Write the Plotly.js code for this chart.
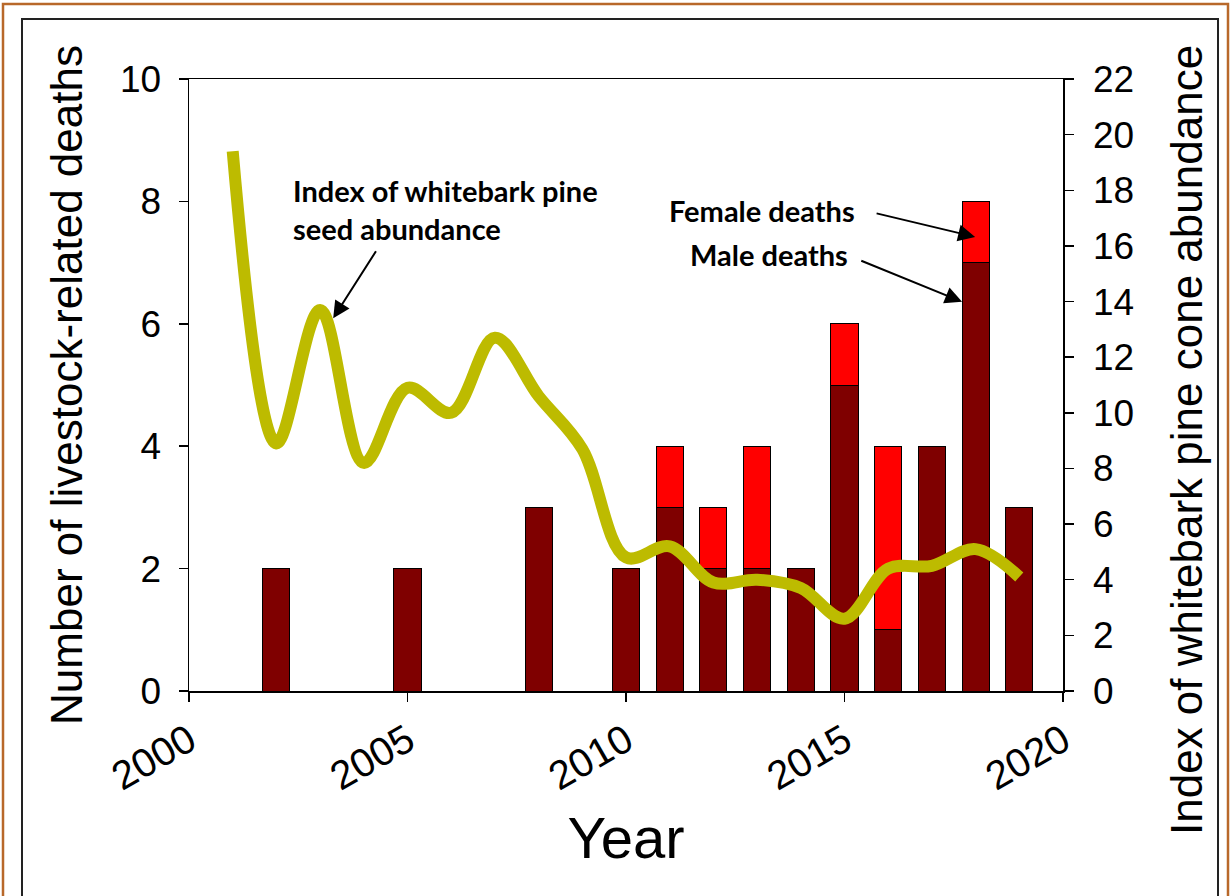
<!DOCTYPE html>
<html>
<head>
<meta charset="utf-8">
<script src="https://cdn.plot.ly/plotly-3.0.1.min.js"></script>
<style>
  html, body { margin: 0; padding: 0; background: #ffffff; }
  #chart { width: 1231px; height: 896px; }
</style>
</head>
<body>
<div id="chart"></div>
<script>
// ---- Data ----
const deathYears   = [2002, 2005, 2008, 2010, 2011, 2012, 2013, 2014, 2015, 2016, 2017, 2018, 2019];
const maleDeaths   = [2, 2, 3, 2, 3, 2, 2, 2, 5, 1, 4, 7, 3];
const femaleDeaths = [0, 0, 0, 0, 1, 1, 2, 0, 1, 3, 0, 1, 0];

const coneYears = [2001, 2002, 2003, 2004, 2005, 2006, 2007, 2008, 2009, 2010,
                   2011, 2012, 2013, 2014, 2015, 2016, 2017, 2018, 2019];
const coneIndex = [19.4, 8.9, 13.7, 8.2, 10.9, 10.0, 12.7, 10.6, 8.7, 4.8,
                   5.2, 3.9, 4.0, 3.7, 2.6, 4.4, 4.5, 5.1, 4.1];

const xTickVals  = [2000, 2005, 2010, 2015, 2020];
const yTickVals  = [0, 2, 4, 6, 8, 10];
const y2TickVals = [0, 2, 4, 6, 8, 10, 12, 14, 16, 18, 20, 22];

const ARIAL = "Liberation Sans, Arial, sans-serif";
const BOLD  = "Lato, Carlito, sans-serif";

const traces = [
  {
    type: 'bar', name: 'Male deaths', x: deathYears, y: maleDeaths,
    width: 0.62,
    marker: { color: '#7f0000', line: { color: '#000000', width: 1 } },
    hoverinfo: 'x+y'
  },
  {
    type: 'bar', name: 'Female deaths', x: deathYears, y: femaleDeaths,
    width: 0.62,
    marker: { color: '#ff0000', line: { color: '#000000', width: 1 } },
    hoverinfo: 'x+y'
  },
  {
    type: 'scatter', mode: 'lines', name: 'Whitebark pine cone index',
    x: coneYears, y: coneIndex, yaxis: 'y2',
    line: { color: '#bdbb00', width: 12, shape: 'spline', smoothing: 1 },
    hoverinfo: 'x+y'
  }
];

// pixel helpers only for frame shapes (paper coords)
const L = 189, R = 1063, T = 79, B = 691;
const px = v => (v - L) / (R - L);
const py = v => (B - v) / (B - T);

const layout = {
  width: 1231, height: 896,
  margin: { l: L, r: 1231 - R, t: T, b: 896 - B },
  paper_bgcolor: '#ffffff', plot_bgcolor: '#ffffff',
  barmode: 'stack',
  showlegend: false,
  font: { family: ARIAL, color: '#000000' },
  xaxis: {
    range: [2000, 2020],
    tickvals: xTickVals,
    ticktext: xTickVals.map(String),
    tickangle: -30,
    tickfont: { family: ARIAL, size: 40, color: '#000' },
    ticks: 'outside', ticklen: 9, tickwidth: 1.5, tickcolor: '#000',
    showline: true, linecolor: '#000', linewidth: 1.5, mirror: true,
    showgrid: false, zeroline: false,
    title: { text: 'Year', font: { family: ARIAL, size: 58, color: '#000' }, standoff: 20 }
  },
  yaxis: {
    range: [0, 10],
    tickvals: yTickVals,
    tickfont: { family: ARIAL, size: 37, color: '#000' },
    ticks: 'outside', ticklen: 9, tickwidth: 1.5, tickcolor: '#000',
    ticklabelstandoff: 10,
    showline: true, linecolor: '#000', linewidth: 1.5,
    showgrid: false, zeroline: false,
    title: { text: 'Number of livestock-related deaths', font: { family: ARIAL, size: 44, color: '#000' }, standoff: 23 }
  },
  yaxis2: {
    range: [0, 22],
    overlaying: 'y', side: 'right',
    tickvals: y2TickVals,
    tickfont: { family: ARIAL, size: 37, color: '#000' },
    ticks: 'outside', ticklen: 9, tickwidth: 1.5, tickcolor: '#000',
    ticklabelstandoff: 12,
    showline: true, linecolor: '#000', linewidth: 1.5,
    showgrid: false, zeroline: false
  },
  shapes: [
    { type: 'rect', xref: 'paper', yref: 'paper', layer: 'below',
      x0: px(3), x1: px(1228), y0: py(905), y1: py(4),
      line: { color: '#b8682a', width: 2.5 }, fillcolor: 'rgba(0,0,0,0)' },
    { type: 'rect', xref: 'paper', yref: 'paper', layer: 'below',
      x0: px(22), x1: px(1218), y0: py(905), y1: py(19),
      line: { color: '#222222', width: 2 }, fillcolor: 'rgba(0,0,0,0)' }
  ],
  annotations: [
    { xref: 'paper', yref: 'paper', x: px(1186), y: py(440),
      text: 'Index of whitebark pine cone abundance', textangle: -90,
      showarrow: false, xanchor: 'center', yanchor: 'middle',
      font: { family: ARIAL, size: 44, color: '#000' } },

    { xref: 'x', yref: 'y', x: 2002.33, y: 8.5, xanchor: 'left', yanchor: 'top',
      align: 'left', showarrow: false,
      text: '<b>Index of whitebark pine<br>seed abundance</b>',
      font: { family: BOLD, size: 29, color: '#000' } },
    { xref: 'x', yref: 'y', x: 2015.28, y: 7.85, xanchor: 'right', yanchor: 'middle',
      showarrow: false, text: '<b>Female deaths</b>',
      font: { family: BOLD, size: 29, color: '#000' } },
    { xref: 'x', yref: 'y', x: 2015.12, y: 7.14, xanchor: 'right', yanchor: 'middle',
      showarrow: false, text: '<b>Male deaths</b>',
      font: { family: BOLD, size: 29, color: '#000' } },

    { xref: 'x', yref: 'y', axref: 'x', ayref: 'y', x: 2003.30, y: 6.09, ax: 2004.30, ay: 7.21,
      text: '', showarrow: true, arrowhead: 2, arrowsize: 1.7, arrowwidth: 2, arrowcolor: '#000' },
    { xref: 'x', yref: 'y', axref: 'x', ayref: 'y', x: 2017.99, y: 7.42, ax: 2015.70, ay: 7.81,
      text: '', showarrow: true, arrowhead: 2, arrowsize: 1.7, arrowwidth: 2, arrowcolor: '#000' },
    { xref: 'x', yref: 'y', axref: 'x', ayref: 'y', x: 2017.69, y: 6.36, ax: 2015.35, ay: 7.04,
      text: '', showarrow: true, arrowhead: 2, arrowsize: 1.7, arrowwidth: 2, arrowcolor: '#000' }
  ]
};

Plotly.newPlot('chart', traces, layout, { displayModeBar: false, staticPlot: true });
</script>
</body>
</html>
